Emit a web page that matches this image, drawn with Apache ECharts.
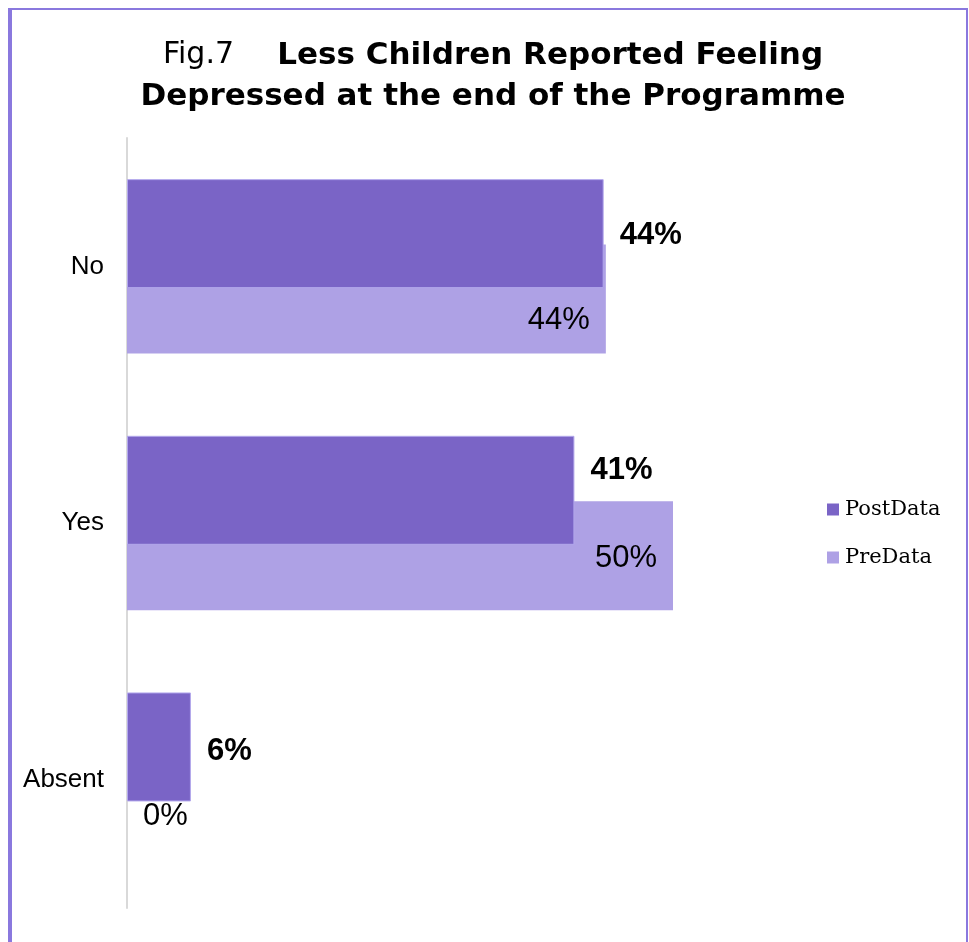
<!DOCTYPE html>
<html>
<head>
<meta charset="utf-8">
<script src="https://cdn.jsdelivr.net/npm/echarts@6/dist/echarts.min.js"></script>
<style>
html,body{margin:0;padding:0;background:#fff;}
#chart{width:969px;height:942px;}
</style>
</head>
<body>
<div id="chart"></div>
<script>
var categories = ['No', 'Yes', 'Absent'];
var postData = [44.0, 41.3, 5.9];
var preData = [44.2, 50.4, 0];
var seriesNames = ['PostData', 'PreData'];

// label nudges (style only), per category index
var postNudge = [[0, 2], [0, -20], [0, 4]];
var preNudge = [[0, 21], [0, 3], [0, 4]];

var chart = echarts.init(document.getElementById('chart'));

function fmt(p) { return Math.round(p.value) + '%'; }

var postItems = postData.map(function (v, i) {
  return { value: v, label: { offset: postNudge[i] } };
});
var preItems = preData.map(function (v, i) {
  return {
    value: v,
    label: { offset: preNudge[i], position: v === 0 ? 'right' : 'insideRight' }
  };
});

var option = {
  backgroundColor: '#ffffff',
  animation: false,
  title: {
    text: '{a|Fig.7}{b|    Less Children Reported Feeling}\n{b|Depressed at the end of the Programme}',
    left: 488,
    textAlign: 'center',
    top: 30,
    textStyle: {
      rich: {
        a: { fontFamily: 'DejaVu Sans', fontSize: 30, fontWeight: 'normal', color: '#000', lineHeight: 41 },
        b: { fontFamily: 'DejaVu Sans', fontSize: 31, fontWeight: 'bold', color: '#000', lineHeight: 41 }
      }
    }
  },
  legend: {
    orient: 'vertical',
    left: 822,
    top: 494,
    itemWidth: 12,
    itemHeight: 12,
    itemGap: 27,
    icon: 'rect',
    itemStyle: { borderWidth: 0 },
    data: seriesNames,
    textStyle: { fontFamily: 'DejaVu Serif', fontSize: 21, color: '#000', padding: [0, 0, 0, 1] }
  },
  grid: { left: 127, top: 138, bottom: 34, width: 650, containLabel: false },
  xAxis: {
    type: 'value', min: 0, max: 60, show: false,
    splitLine: { show: false }
  },
  yAxis: {
    type: 'category',
    inverse: true,
    data: categories,
    axisLine: { show: true, lineStyle: { color: '#D9D9D9', width: 2 } },
    axisTick: { show: false },
    axisLabel: { fontFamily: 'Liberation Sans', fontSize: 26, color: '#000', margin: 23 }
  },
  series: [
    {
      name: seriesNames[0],
      type: 'bar',
      data: postItems,
      barWidth: 109,
      barGap: '-40%',
      z: 3,
      itemStyle: { color: '#7A64C6', borderColor: '#B3A8EC', borderWidth: 1 },
      label: {
        show: true, position: 'right', distance: 16, formatter: fmt,
        fontFamily: 'Liberation Sans', fontSize: 31, fontWeight: 'bold', color: '#000'
      }
    },
    {
      name: seriesNames[1],
      type: 'bar',
      data: preItems,
      barWidth: 109,
      barGap: '-40%',
      z: 2,
      itemStyle: { color: '#AEA1E5' },
      label: {
        show: true, position: 'insideRight', distance: 16, formatter: fmt,
        fontFamily: 'Liberation Sans', fontSize: 31, fontWeight: 'normal', color: '#000'
      }
    }
  ],
  graphic: [
    { type: 'line', shape: { x1: 10, y1: 8, x2: 10, y2: 942 }, style: { stroke: '#8A78DE', lineWidth: 4 }, z: 10 },
    { type: 'line', shape: { x1: 8, y1: 9, x2: 968, y2: 9 }, style: { stroke: '#8A78DE', lineWidth: 2 }, z: 10 },
    { type: 'line', shape: { x1: 967, y1: 8, x2: 967, y2: 942 }, style: { stroke: '#8A78DE', lineWidth: 2 }, z: 10 }
  ]
};
chart.setOption(option);
</script>
</body>
</html>
